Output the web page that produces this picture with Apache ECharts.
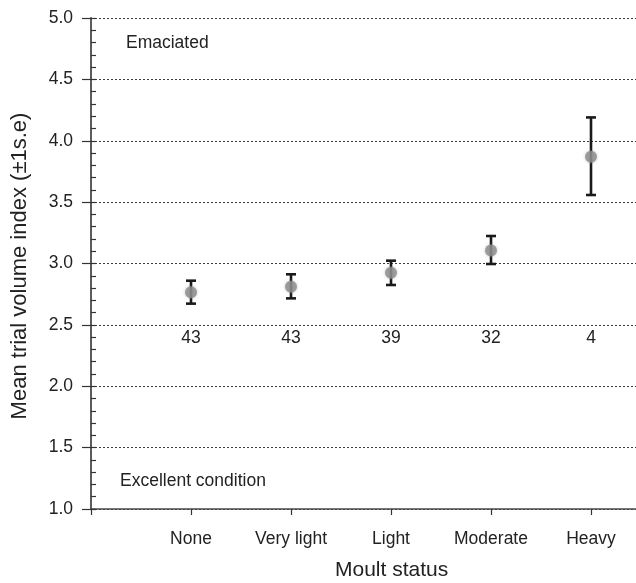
<!DOCTYPE html>
<html>
<head>
<meta charset="utf-8">
<script src="https://cdn.jsdelivr.net/npm/echarts@6/dist/echarts.min.js"></script>
<style>
  html, body { margin: 0; padding: 0; background: #fff; }
  #chart { width: 636px; height: 583px; }
</style>
</head>
<body>
<div id="chart"></div>
<script>
// Moult categories and per-group statistics
const categories = ['None', 'Very light', 'Light', 'Moderate', 'Heavy'];
const means = [2.765, 2.81, 2.925, 3.105, 3.87];
const seLow = [2.673, 2.716, 2.825, 2.996, 3.558];
const seHigh = [2.86, 2.912, 3.023, 3.224, 4.19];
const sampleSizes = [43, 43, 39, 32, 4];
const countLabelLevel = 2.39;
const yTicks = [1.0, 1.5, 2.0, 2.5, 3.0, 3.5, 4.0, 4.5, 5.0];

const FONT = 'Liberation Sans, Arial, Helvetica, sans-serif';
const TEXT = '#222222';

const xPos = categories.map((c, i) => i + 1);
const pointData = xPos.map((x, i) => [x, means[i]]);
const barData = xPos.map((x, i) => [x, seLow[i], seHigh[i]]);
const countData = xPos.map((x, i) => [x, countLabelLevel, sampleSizes[i]]);

const chart = echarts.init(document.getElementById('chart'), null, { renderer: 'canvas' });

chart.setOption({
  backgroundColor: '#ffffff',
  animation: false,
  grid: { left: 91, right: 0, top: 18, bottom: 74 },
  xAxis: {
    type: 'value',
    min: 0,
    max: 5.45,
    interval: 1,
    axisLine: { show: true, onZero: false, lineStyle: { color: '#4a4a4a', width: 1.6 } },
    axisTick: { show: true, inside: false, length: 6, lineStyle: { color: '#333', width: 1.2 } },
    axisLabel: {
      margin: 21,
      fontFamily: FONT, fontSize: 17.5, color: TEXT,
      showMaxLabel: false,
      formatter: v => (Number.isInteger(v) && v >= 1 && v <= categories.length) ? categories[v - 1] : ''
    },
    splitLine: { show: false }
  },
  yAxis: [
    {
      type: 'value',
      position: 'left',
      min: 1, max: 5, interval: 0.5,
      axisLine: { show: true, lineStyle: { color: '#4a4a4a', width: 1.8 } },
      axisTick: { show: true, inside: false, length: 9, lineStyle: { color: '#333', width: 1.2 } },
      axisLabel: {
        margin: 18, fontFamily: FONT, fontSize: 17.5, color: TEXT,
        formatter: v => yTicks.includes(v) ? v.toFixed(1) : ''
      },
      splitLine: { show: true, lineStyle: { color: '#3a3a3a', width: 1, type: [2, 2] } }
    },
    {
      // minor ticks drawn on the inner side of the axis
      type: 'value',
      position: 'left',
      min: 1, max: 5, interval: 0.1,
      axisLine: { show: false },
      axisTick: { show: true, inside: true, length: 5, lineStyle: { color: '#333', width: 1.2 } },
      axisLabel: { show: false },
      splitLine: { show: false }
    }
  ],
  graphic: [
    {
      type: 'text', left: 126, top: 34,
      style: { text: 'Emaciated', font: '17.5px ' + FONT, fill: TEXT }
    },
    {
      type: 'text', left: 120, top: 472,
      style: { text: 'Excellent condition', font: '17.5px ' + FONT, fill: TEXT }
    },
    {
      type: 'text', left: 335, top: 560,
      style: { text: 'Moult status', font: '21px ' + FONT, fill: TEXT }
    },
    {
      type: 'text', x: 20, y: 266, rotation: Math.PI / 2,
      style: { text: 'Mean trial volume index (±1s.e)', font: '22px ' + FONT, fill: TEXT, align: 'center', verticalAlign: 'middle' }
    }
  ],
  series: [
    {
      type: 'custom',
      name: 'se',
      z: 2,
      data: barData,
      renderItem: function (params, api) {
        const x = api.value(0);
        const lo = api.coord([x, api.value(1)]);
        const hi = api.coord([x, api.value(2)]);
        const half = 5;
        const style = { stroke: '#1a1a1a', lineWidth: 2.6 };
        return {
          type: 'group',
          children: [
            { type: 'line', shape: { x1: lo[0], y1: lo[1], x2: hi[0], y2: hi[1] }, style },
            { type: 'line', shape: { x1: hi[0] - half, y1: hi[1], x2: hi[0] + half, y2: hi[1] }, style },
            { type: 'line', shape: { x1: lo[0] - half, y1: lo[1], x2: lo[0] + half, y2: lo[1] }, style }
          ]
        };
      }
    },
    {
      type: 'scatter',
      name: 'mean',
      z: 3,
      data: pointData,
      symbol: 'circle',
      symbolSize: 12,
      itemStyle: { color: '#8c8c8c', shadowBlur: 3, shadowColor: 'rgba(140,140,140,0.6)' }
    },
    {
      // sample size under each group
      type: 'custom',
      name: 'n',
      z: 3,
      data: countData,
      renderItem: function (params, api) {
        const p = api.coord([api.value(0), api.value(1)]);
        return {
          type: 'text',
          x: p[0], y: p[1],
          style: {
            text: String(api.value(2)),
            font: '17.5px ' + FONT, fill: TEXT,
            align: 'center', verticalAlign: 'middle'
          }
        };
      }
    }
  ]
});
</script>
</body>
</html>
